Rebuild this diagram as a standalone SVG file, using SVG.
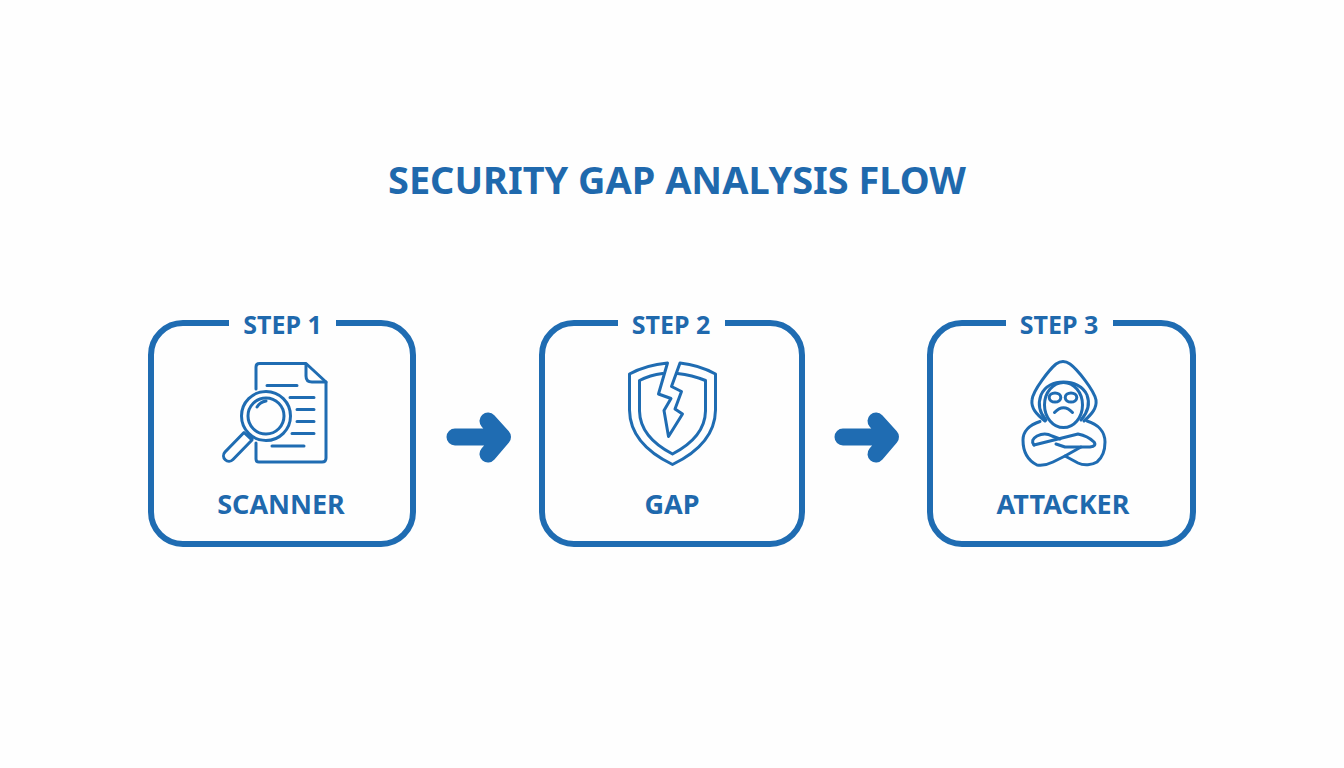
<svg xmlns="http://www.w3.org/2000/svg" width="1344" height="768" viewBox="0 0 1344 768">
<style>
text{font-family:"Noto Sans","Open Sans","Liberation Sans",sans-serif;font-weight:700;fill:#1f69ad;text-anchor:middle}
.title{font-size:37.900px}
.step{font-size:25px}
.name{font-size:27px}
.box{fill:none;stroke:#1f6cb2;stroke-width:6;stroke-linecap:butt}
.ic{fill:none;stroke:#1f6cb2;stroke-width:3;stroke-linecap:round;stroke-linejoin:round}
.arrow{fill:none;stroke:#1f6cb2;stroke-width:17;stroke-linecap:round;stroke-linejoin:round}
</style>
<rect width="1344" height="768" fill="#fefefe"/>
<text class="title" x="677" y="194">SECURITY GAP ANALYSIS FLOW</text>
<g id="connectors">
<path class="arrow" d="M455 437H501M488 421L502.500 437L488 454"/>
<path class="arrow" d="M843 437H889M876 421L890.500 437L876 454"/>
</g>
<g id="node-scanner">
<path class="box" d="M229 323H183a32 32 0 0 0-32 32V512a32 32 0 0 0 32 32H381a32 32 0 0 0 32-32V355a32 32 0 0 0-32-32H336"/>
<text class="step" x="282.500" y="334">STEP 1</text>
<g class="ic">
<path d="M256 389V367q0-3.500 3.500-3.500H306L326 382V458q0 4-4 4H259q-3 0-3-3V443"/>
<path d="M306 364V376q0 6 6 6H326"/>
<path d="M267 385.500H297M290 397.500H314M297 409.500H314M297 421.500H314M292 433.500H314M272 446H304"/>
<circle cx="266" cy="416" r="24.500"/>
<circle cx="266" cy="416" r="18"/>
<path d="M257 407q3-5 9-6"/>
<path d="M248 435L252 439"/>
<path d="M244 432.500L252 440L233 459.500a5.400 5.400 0 0 1-8-7.500Z"/>
</g>
<text class="name" x="281" y="514">SCANNER</text>
</g>
<g id="node-gap">
<path class="box" d="M618 323H574a32 32 0 0 0-32 32V512a32 32 0 0 0 32 32H770a32 32 0 0 0 32-32V355a32 32 0 0 0-32-32H725"/>
<text class="step" x="671" y="334">STEP 2</text>
<g class="ic">
<path d="M667.500 363Q646 365 629.500 374V410Q630 444 672.500 464.500Q715 444 715.500 410V374Q699 365 680 363L671.500 386.500L681.500 391.500L675 409L682.500 414L668.500 436.500L664 410.500L671 398.500L658.500 394Z"/>
<path d="M662.500 373.500Q650 375 639.500 380.500V411Q640 437 672.500 454Q705 437 705.500 411V380.500Q692 375 677.500 373.500"/>
</g>
<text class="name" x="672" y="514">GAP</text>
</g>
<g id="node-attacker">
<path class="box" d="M1006 323H962a32 32 0 0 0-32 32V512a32 32 0 0 0 32 32H1161a32 32 0 0 0 32-32V355a32 32 0 0 0-32-32H1113"/>
<text class="step" x="1059" y="334">STEP 3</text>
<g class="ic">
<path d="M1045 421C1036 414 1031 408 1032 400C1033 390 1050 369 1056 364Q1063 359 1070 364C1077 369 1094 390 1096 400C1097 408 1092 414 1084 421"/>
<path d="M1046 420C1039 412 1038 403 1041 395C1045 386 1054 382 1063.500 382C1073 382 1083 386 1087 395C1090 403 1088 412 1081 420"/>
<ellipse cx="1063.500" cy="405" rx="19" ry="22.500"/>
<ellipse cx="1055" cy="397.500" rx="5.800" ry="4.600"/>
<ellipse cx="1071" cy="397.500" rx="5.800" ry="4.600"/>
<path d="M1054.500 412.500Q1063.500 403 1072.500 412.500"/>
<path d="M1040 421.500C1029 425 1023 432 1023 440C1023 450 1027 460 1037 465C1044 466 1049 464 1053 462L1065 456L1078 463C1084 466 1092 465 1097 462C1103 457 1105 449 1105 442C1105 431 1097 424 1087 421"/>
<path d="M1034 445Q1030 440 1037 436Q1045 432 1052 436L1060 439"/>
<path d="M1034 445L1058 439L1078 434Q1088 436 1094 442Q1097 446 1090 447H1081L1065 456"/>
<path d="M1056 444L1065 447L1081 447"/>
</g>
<text class="name" x="1063" y="514">ATTACKER</text>
</g>
</svg>
